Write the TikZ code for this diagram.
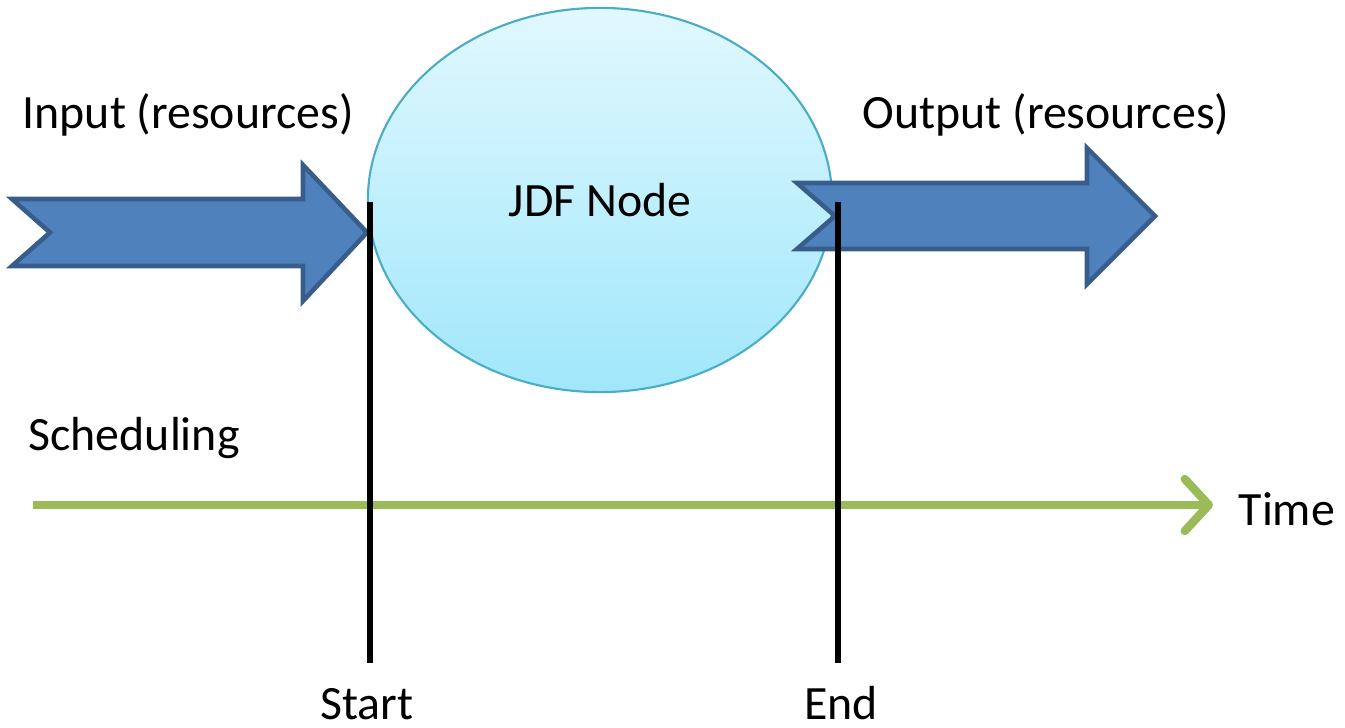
\documentclass[tikz,border=0pt]{standalone}
\usepackage{fontspec}
\setmainfont{Carlito}
\usetikzlibrary{arrows.meta, shapes.geometric}

\definecolor{resblue}{HTML}{4F81BD}
\definecolor{resedge}{HTML}{385D8A}
\definecolor{nodetop}{HTML}{E1F8FE}
\definecolor{nodebot}{HTML}{A0E7FB}
\definecolor{nodeedge}{HTML}{4BACC6}
\definecolor{timegreen}{HTML}{9BBB59}

\begin{document}
\begin{tikzpicture}[x=0.01cm, y=-0.01cm,
        every node/.style={font=\fontsize{13.6}{16}\selectfont, inner sep=0pt},
        label/.style={anchor=base west},
        resarrow/.style={fill=resblue, draw=resedge, line width=1.3pt, line join=miter},
        jdfnode/.style={ellipse, draw=nodeedge, line width=0.6pt, top color=nodetop, bottom color=nodebot,
            minimum width=4.64cm, minimum height=3.84cm},
        timeline/.style={draw=timegreen, line width=2.4pt, -{Straight Barb[length=2.4mm, width=5.2mm, round]}},
        marker/.style={draw=black, line width=1.8pt}
    ]
        \useasboundingbox (0, 0) rectangle (1345, 727);

        % resources in
        \filldraw[resarrow] (12, 199) -- (303, 199) -- (303, 165) -- (367, 232.5) --
            (303, 301) -- (303, 266) -- (12, 266) -- (50, 232.5) -- cycle;
        \node[jdfnode] (jdf) at (600, 200) {JDF Node};
        % resources out
        \filldraw[resarrow] (797, 183) -- (1087, 183) -- (1087, 148) -- (1155, 216) --
            (1087, 284) -- (1087, 249) -- (797, 249) -- (835, 216) -- cycle;

        \node[label] (input) at (22, 128) {Input (resources)};
        \node[label] (output) at (862, 128) {Output (resources)};
        \node[label] (sched) at (28, 450) {Scheduling};
        \node[label] (time) at (1238, 525) {Time};

        \coordinate (t0) at (33, 505);
        \coordinate (t1) at (1213, 505);
        \draw[timeline] (t0) -- (t1);

        \coordinate (starttop) at (370, 202);
        \coordinate (startbot) at (370, 663);
        \coordinate (endtop) at (838, 202);
        \coordinate (endbot) at (838, 663);
        \draw[marker] (starttop) -- (startbot);
        \draw[marker] (endtop) -- (endbot);
        \node[anchor=base] (start) at (367, 719) {Start};
        \node[anchor=base] (end) at (841, 719) {End};
    \end{tikzpicture}
\end{document}
